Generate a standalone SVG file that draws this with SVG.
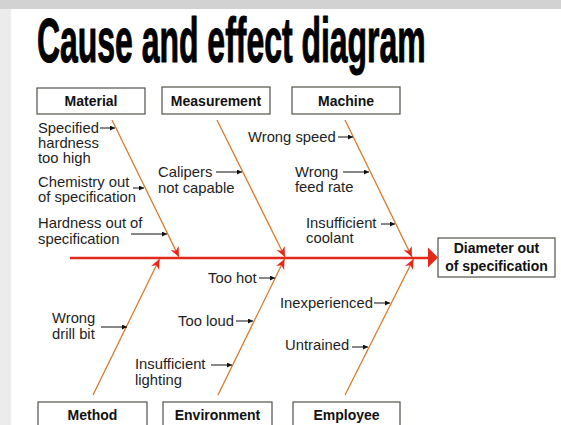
<svg xmlns="http://www.w3.org/2000/svg" width="561" height="425" viewBox="0 0 561 425">
  <style>
    .title { font-family: "Liberation Sans", Arial, sans-serif; font-weight: bold; font-size: 63px; fill: #000; stroke: #000; stroke-width: 1.1; stroke-linejoin: round; }
    .box { fill: #fff; stroke: #4f5349; stroke-width: 1.2; }
    .head { font-family: "Liberation Sans", Arial, sans-serif; font-weight: bold; font-size: 14px; fill: #111; text-anchor: middle; }
    .lbl { font-family: "Liberation Sans", Arial, sans-serif; font-size: 14.8px; fill: #1e1e1e; }
    .bone { stroke: #d97a2e; stroke-width: 1.3; fill: none; marker-end: url(#redHead); }
    .spine { stroke: #e4281a; stroke-width: 2.6; fill: none; }
    .cue { stroke: #111; stroke-width: 1; fill: none; marker-end: url(#cueHead); }
  </style>
  <defs>
    <marker id="redHead" markerUnits="userSpaceOnUse" markerWidth="12" markerHeight="10" refX="10" refY="4.5" orient="auto">
      <path d="M0,0 L10,4.5 L0,9 L3,4.5 z" fill="#e4281a"/>
    </marker>
    <marker id="cueHead" markerUnits="userSpaceOnUse" markerWidth="6" markerHeight="6" refX="5" refY="2.5" orient="auto">
      <path d="M0,0 L5,2.5 L0,5 z" fill="#111"/>
    </marker>
  </defs>

  <!-- page background with grey margin -->
  <rect x="0" y="0" width="561" height="425" fill="#ececec"/>
  <rect x="0" y="0" width="561" height="9" fill="#d2d2d2"/>
  <rect x="11" y="9" width="550" height="416" fill="#fff"/>

  <!-- condensed heading: bold face squeezed horizontally -->
  <text class="title" transform="translate(37,62) scale(0.507,1)">Cause and effect diagram</text>

  <!-- connectors: spine and cause bones -->
  <g id="connectors">
    <line class="spine" x1="70" y1="258" x2="430" y2="258"/>
    <polygon points="428,247.5 438,257.5 428,267.5" fill="#e4281a"/>
    <line class="bone" x1="112" y1="120" x2="179" y2="257"/>
    <line class="bone" x1="217" y1="120" x2="285" y2="257"/>
    <line class="bone" x1="345" y1="120" x2="412" y2="257"/>
    <line class="bone" x1="93" y1="395" x2="159.5" y2="259"/>
    <line class="bone" x1="218" y1="395" x2="284.5" y2="259"/>
    <line class="bone" x1="345" y1="395" x2="413.5" y2="259"/>
  </g>

  <!-- effect -->
  <g id="effect">
    <rect class="box" x="438" y="238" width="117" height="39"/>
    <text class="head" x="496.5" y="253" font-size="14.5">Diameter out</text>
    <text class="head" x="496.5" y="271" font-size="14.5">of specification</text>
  </g>

  <g id="material">
    <rect class="box" x="37" y="88" width="108" height="26"/>
    <text class="head" x="91" y="106">Material</text>
    <text class="lbl" x="38" y="133">Specified</text>
    <text class="lbl" x="38" y="148">hardness</text>
    <text class="lbl" x="38" y="163">too high</text>
    <line class="cue" x1="100" y1="128" x2="115" y2="128"/>
    <text class="lbl" x="38" y="187">Chemistry out</text>
    <text class="lbl" x="38" y="202">of specification</text>
    <line class="cue" x1="133" y1="188" x2="144" y2="188"/>
    <text class="lbl" x="38" y="228">Hardness out of</text>
    <text class="lbl" x="38" y="244">specification</text>
    <line class="cue" x1="131" y1="234" x2="167" y2="234"/>
  </g>

  <g id="measurement">
    <rect class="box" x="162" y="87" width="108" height="27"/>
    <text class="head" x="216" y="106">Measurement</text>
    <text class="lbl" x="158" y="177">Calipers</text>
    <text class="lbl" x="158" y="193">not capable</text>
    <line class="cue" x1="216" y1="172" x2="242" y2="172"/>
  </g>

  <g id="machine">
    <rect class="box" x="292" y="87" width="108" height="27"/>
    <text class="head" x="346" y="106">Machine</text>
    <text class="lbl" x="248" y="142">Wrong speed</text>
    <line class="cue" x1="338" y1="137" x2="353" y2="137"/>
    <text class="lbl" x="295" y="177">Wrong</text>
    <text class="lbl" x="295" y="192">feed rate</text>
    <line class="cue" x1="343" y1="172" x2="369" y2="172"/>
    <text class="lbl" x="306" y="228">Insufficient</text>
    <text class="lbl" x="306" y="243">coolant</text>
    <line class="cue" x1="381" y1="224" x2="395" y2="224"/>
  </g>

  <g id="method">
    <rect class="box" x="38" y="402" width="109" height="30"/>
    <text class="head" x="92.5" y="420">Method</text>
    <text class="lbl" x="52" y="323">Wrong</text>
    <text class="lbl" x="52" y="339">drill bit</text>
    <line class="cue" x1="101" y1="327" x2="127" y2="327"/>
  </g>

  <g id="environment">
    <rect class="box" x="163" y="402" width="109" height="30"/>
    <text class="head" x="217.5" y="420">Environment</text>
    <text class="lbl" x="208" y="283">Too hot</text>
    <line class="cue" x1="259" y1="278" x2="275" y2="278"/>
    <text class="lbl" x="178" y="326">Too loud</text>
    <line class="cue" x1="236" y1="321" x2="253" y2="321"/>
    <text class="lbl" x="135" y="369">Insufficient</text>
    <text class="lbl" x="135" y="385">lighting</text>
    <line class="cue" x1="211" y1="365" x2="232" y2="365"/>
  </g>

  <g id="employee">
    <rect class="box" x="293" y="402" width="107" height="30"/>
    <text class="head" x="346.5" y="420">Employee</text>
    <text class="lbl" x="280" y="308">Inexperienced</text>
    <line class="cue" x1="374" y1="303" x2="390" y2="303"/>
    <text class="lbl" x="285" y="350">Untrained</text>
    <line class="cue" x1="352" y1="347" x2="368" y2="347"/>
  </g>
</svg>
